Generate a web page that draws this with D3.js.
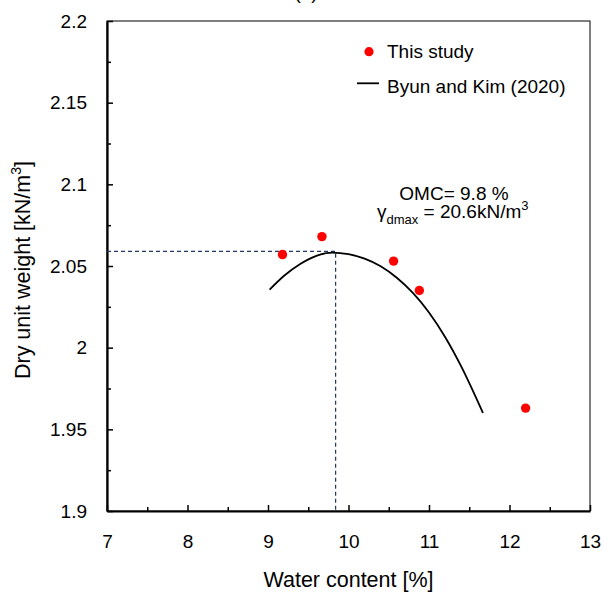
<!DOCTYPE html>
<html>
<head>
<meta charset="utf-8">
<script src="https://cdn.jsdelivr.net/npm/d3@7"></script>
<style>
body { margin: 0; background: #fff; }
text { font-family: "Liberation Sans", Arial, sans-serif; fill: #000; }
</style>
</head>
<body>
<div class="chart"></div>
<script>
var outerW = 603, outerH = 595;
var margin = {top: 21, right: 13, bottom: 84, left: 107};
var width = outerW - margin.left - margin.right,
	height = outerH - margin.top - margin.bottom;

// measured points (this study)
var studyW = [9.18, 9.67, 10.56, 10.88, 12.2];
var studyG = [2.057, 2.068, 2.053, 2.035, 1.963];

// Byun and Kim (2020) curve
var curveW = [9.02, 9.2, 9.4, 9.6, 9.8, 10.0, 10.2, 10.4, 10.6, 10.8, 11.0, 11.2, 11.4, 11.67];
var curveG = [2.0355, 2.0440, 2.0512, 2.0562, 2.0582, 2.0572, 2.0545, 2.0498, 2.0428, 2.0335, 2.0215, 2.0065, 1.9885, 1.960];

// optimum point
var omc = [9.84];
var gMax = [2.059];

var xTicks = [7, 8, 9, 10, 11, 12, 13];
var xMinor = [7.5, 8.5, 9.5, 10.5, 11.5, 12.5];
var yTicks = [1.9, 1.95, 2, 2.05, 2.1, 2.15, 2.2];
var yMinor = [1.925, 1.975, 2.025, 2.075, 2.125, 2.175];

var svg = d3.select(".chart")
	.append("svg")
	.attr("width", outerW)
	.attr("height", outerH);

var g = svg.append("g")
	.attr("transform", "translate(" + margin.left + "," + margin.top + ")");

var x = d3.scaleLinear().domain([7, 13]).range([0, width]);
var y = d3.scaleLinear().domain([1.9, 2.2]).range([height, 0]);

// plot border
g.append("rect")
	.attr("x", 0).attr("y", 0)
	.attr("width", width).attr("height", height)
	.attr("fill", "none")
	.attr("stroke", "#000")
	.attr("stroke-width", 1);

// minor ticks
g.append("g")
	.attr("transform", "translate(0," + height + ")")
	.call(d3.axisBottom(x).tickValues(xMinor).tickSize(-4).tickSizeOuter(0).tickFormat(""))
	.call(a => a.select(".domain").remove())
	.call(a => a.selectAll("line").attr("stroke-width", 1.5));
g.append("g")
	.call(d3.axisLeft(y).tickValues(yMinor).tickSize(-4).tickSizeOuter(0).tickFormat(""))
	.call(a => a.select(".domain").remove())
	.call(a => a.selectAll("line").attr("stroke-width", 1.5));

// major axes
var xAxis = g.append("g")
	.attr("transform", "translate(0," + height + ")")
	.call(d3.axisBottom(x).tickValues(xTicks).tickSize(-6).tickSizeOuter(0).tickPadding(23.5).tickFormat(d3.format("d")));
var yAxis = g.append("g")
	.call(d3.axisLeft(y).tickValues(yTicks).tickSize(-6).tickSizeOuter(0).tickPadding(20).tickFormat(d => String(+d.toFixed(2))));

[xAxis, yAxis].forEach(function(a) {
	a.select(".domain").attr("stroke-width", 2.2);
	a.selectAll("line").attr("stroke-width", 1.5);
	a.selectAll("text")
		.style("font-family", '"Liberation Sans", Arial, sans-serif')
		.style("font-size", "19px")
		.attr("fill", "#000");
});

// dashed guide lines to the optimum
g.append("path")
	.attr("d", "M0," + y(gMax[0]) + "H" + x(omc[0]) + "V" + height)
	.attr("fill", "none")
	.attr("stroke", "#1f3864")
	.attr("stroke-width", 1.2)
	.attr("stroke-dasharray", "4,3");

// fitted curve
var line = d3.line()
	.x(d => x(d[0]))
	.y(d => y(d[1]))
	.curve(d3.curveMonotoneX);

g.append("path")
	.datum(curveW.map((w, i) => [w, curveG[i]]))
	.attr("d", line)
	.attr("fill", "none")
	.attr("stroke", "#000")
	.attr("stroke-width", 1.8);

// data points
g.selectAll(".pt")
	.data(studyW.map((w, i) => [w, studyG[i]]))
	.enter().append("circle")
	.attr("class", "pt")
	.attr("cx", d => x(d[0]))
	.attr("cy", d => y(d[1]))
	.attr("r", 4.7)
	.attr("fill", "#ff0000");

// legend
g.append("circle")
	.attr("cx", 369 - margin.left).attr("cy", 51.7 - margin.top)
	.attr("r", 4.6).attr("fill", "#ff0000");
g.append("text")
	.attr("x", 387 - margin.left).attr("y", 57.5 - margin.top)
	.style("font-size", "19px")
	.text("This study");
g.append("line")
	.attr("x1", 357 - margin.left).attr("x2", 379 - margin.left)
	.attr("y1", 83.3 - margin.top).attr("y2", 83.3 - margin.top)
	.attr("stroke", "#000").attr("stroke-width", 1.8);
g.append("text")
	.attr("x", 387 - margin.left).attr("y", 93 - margin.top)
	.style("font-size", "19px")
	.text("Byun and Kim (2020)");

// annotation
g.append("text")
	.attr("x", 454 - margin.left).attr("y", 200 - margin.top)
	.attr("text-anchor", "middle")
	.style("font-size", "19px")
	.text("OMC= 9.8 %");
var ann = g.append("text")
	.attr("x", 377 - margin.left).attr("y", 218 - margin.top)
	.style("font-size", "19px");
ann.append("tspan").text("γ");
ann.append("tspan").attr("dy", 6).style("font-size", "13px").text("dmax");
ann.append("tspan").attr("dy", -6).text(" = 20.6kN/m");
ann.append("tspan").attr("dy", -8).style("font-size", "13px").text("3");

// axis titles
svg.append("text")
	.attr("x", margin.left + width / 2).attr("y", 587)
	.attr("text-anchor", "middle")
	.style("font-size", "21.5px")
	.text("Water content [%]");
var yt = svg.append("text")
	.attr("transform", "translate(30," + (margin.top + height / 2 + 4) + ") rotate(-90)")
	.attr("text-anchor", "middle")
	.style("font-size", "21.5px");
yt.append("tspan").text("Dry unit weight [kN/m");
yt.append("tspan").attr("dy", -9).style("font-size", "14px").text("3");
yt.append("tspan").attr("dy", 9).text("]");

// panel label, cut at the top edge
svg.append("text")
	.attr("x", 306).attr("y", -1)
	.attr("text-anchor", "middle")
	.style("font-size", "19px")
	.text("(a)");
</script>
</body>
</html>
